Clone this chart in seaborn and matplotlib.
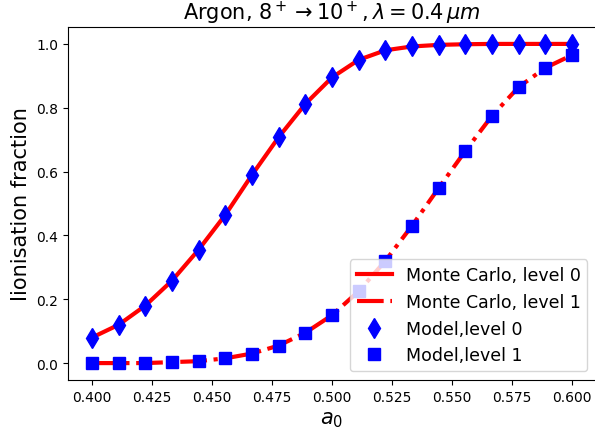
import numpy as np
import pandas as pd
import matplotlib
matplotlib.use("Agg")
import matplotlib.pyplot as plt
import seaborn as sns

# %% data

a0 = [0.4000, 0.4111, 0.4222, 0.4333, 0.4444, 0.4556, 0.4667, 0.4778, 0.4889, 0.5000,
      0.5111, 0.5222, 0.5333, 0.5444, 0.5556, 0.5667, 0.5778, 0.5889, 0.6000]

mc_level0 = [0.080, 0.120, 0.180, 0.258, 0.355, 0.465, 0.590, 0.708, 0.812, 0.895,
             0.950, 0.980, 0.992, 0.997, 0.999, 1.000, 1.000, 1.000, 1.000]
mc_level1 = [0.000, 0.000, 0.000, 0.003, 0.006, 0.015, 0.030, 0.055, 0.095, 0.150,
             0.225, 0.320, 0.430, 0.548, 0.665, 0.775, 0.865, 0.925, 0.965]

model_level0 = [0.080, 0.120, 0.180, 0.258, 0.355, 0.465, 0.590, 0.708, 0.812, 0.895,
                0.950, 0.980, 0.992, 0.997, 0.999, 1.000, 1.000, 1.000, 1.000]
model_level1 = [0.000, 0.000, 0.000, 0.003, 0.006, 0.015, 0.030, 0.055, 0.095, 0.150,
                0.225, 0.320, 0.430, 0.548, 0.665, 0.775, 0.865, 0.925, 0.965]

df = pd.DataFrame({"a0": a0, "mc0": mc_level0, "mc1": mc_level1,
                   "m0": model_level0, "m1": model_level1})

# %% plot

fig = plt.figure(figsize=(5.95, 4.39), dpi=100)
ax = fig.add_axes([68 / 595, 58 / 439, 528 / 595, 353 / 439])

sns.lineplot(data=df, x="a0", y="mc0", ax=ax, color="red", lw=3, ls="-",
             label="Monte Carlo, level 0")
sns.lineplot(data=df, x="a0", y="mc1", ax=ax, color="red", lw=3, ls="-.",
             label="Monte Carlo, level 1")
ax.plot(df["a0"], df["m0"], "d", color="blue", ms=10, label="Model,level 0")   ## markers only
ax.plot(df["a0"], df["m1"], "s", color="blue", ms=9, label="Model,level 1")

ax.set_xlim(0.39, 0.61)
ax.set_ylim(-0.053, 1.053)
ax.set_xticks([0.4, 0.425, 0.45, 0.475, 0.5, 0.525, 0.55, 0.575, 0.6])
ax.set_xlabel(r"$a_0$", fontsize=15)
ax.set_ylabel("Iionisation fraction", fontsize=15)
ax.set_title(r"Argon, $8^+\rightarrow 10^+,\lambda = 0.4\,\mu m$", fontsize=15)
ax.legend(loc="lower right", fontsize=12.5)

fig.savefig("out.png", dpi=100)
